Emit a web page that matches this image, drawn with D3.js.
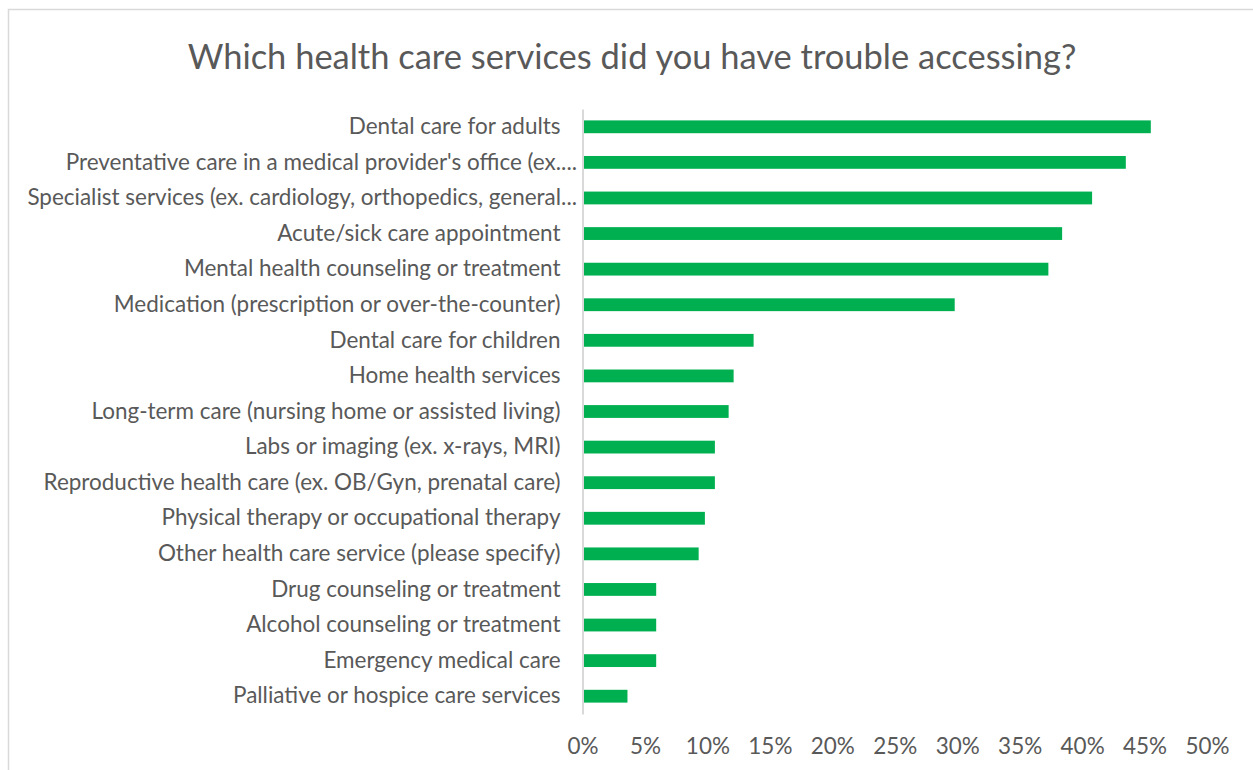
<!DOCTYPE html>
<html>
<head>
<meta charset="utf-8">
<script src="https://cdn.jsdelivr.net/npm/d3@7"></script>
<style>
  html, body { margin: 0; padding: 0; background: #ffffff; }
  svg { display: block; }
  text { font-family: Lato, "Open Sans", sans-serif; fill: #595959; }
</style>
</head>
<body>
<svg id="chart" width="1253" height="770"></svg>
<script>
// Survey responses: share of respondents reporting trouble accessing each service
const categories = [
  "Dental care for adults",
  "Preventative care in a medical provider's office (ex....",
  "Specialist services (ex. cardiology, orthopedics, general...",
  "Acute/sick care appointment",
  "Mental health counseling or treatment",
  "Medication (prescription or over-the-counter)",
  "Dental care for children",
  "Home health services",
  "Long-term care (nursing home or assisted living)",
  "Labs or imaging (ex. x-rays, MRI)",
  "Reproductive health care (ex. OB/Gyn, prenatal care)",
  "Physical therapy or occupational therapy",
  "Other health care service (please specify)",
  "Drug counseling or treatment",
  "Alcohol counseling or treatment",
  "Emergency medical care",
  "Palliative or hospice care services"
];
const values = [0.455, 0.435, 0.408, 0.384, 0.373, 0.298, 0.137, 0.121, 0.117, 0.106, 0.106, 0.098, 0.093, 0.059, 0.059, 0.059, 0.036];
const tickValues = [0, 0.05, 0.10, 0.15, 0.20, 0.25, 0.30, 0.35, 0.40, 0.45, 0.50];
const title = "Which health care services did you have trouble accessing?";

const svg = d3.select("#chart");
const W = 1253, H = 770;

// chart frame
svg.append("rect")
  .attr("x", 8.5).attr("y", 9.5)
  .attr("width", W + 10).attr("height", H + 10)
  .attr("fill", "#ffffff")
  .attr("stroke", "#d9d9d9")
  .attr("stroke-width", 1.5);

const plot = { left: 582.5, right: 1207, top: 109, bottom: 714 };

const x = d3.scaleLinear().domain([0, 0.5]).range([plot.left, plot.right]);
const y = d3.scaleBand().domain(categories).range([plot.top, plot.bottom]).paddingInner(0.64).paddingOuter(0.32);

// title, sized to its layout width
const titleText = svg.append("text")
  .attr("x", 632).attr("y", 55)
  .attr("text-anchor", "middle")
  .attr("dominant-baseline", "central")
  .style("font-size", "28px")
  .text(title);
const tw = titleText.node().getComputedTextLength();
titleText.style("font-size", (28 * 889 / tw).toFixed(2) + "px");

// bars
svg.append("g")
  .selectAll("rect")
  .data(categories)
  .join("rect")
  .attr("x", x(0))
  .attr("y", d => y(d))
  .attr("width", (d, i) => x(values[i]) - x(0))
  .attr("height", y.bandwidth())
  .attr("fill", "#00b050");

// category axis
const yAxis = svg.append("g")
  .attr("transform", `translate(${plot.left},0)`)
  .call(d3.axisLeft(y).tickSize(0).tickPadding(22));
yAxis.select(".domain")
  .attr("stroke", "#d9d9d9")
  .attr("stroke-width", 2);
const yLabels = yAxis.selectAll(".tick text")
  .attr("fill", "#595959")
  .style("font-family", "Lato, 'Open Sans', sans-serif")
  .style("font-size", "19px");

// scale label font so the row labels fit the same column width
const probe = yLabels.filter(d => d === "Long-term care (nursing home or assisted living)");
const lw = probe.node().getComputedTextLength();
const labelSize = 19 * 469 / lw;
yLabels.style("font-size", labelSize.toFixed(2) + "px");
// truncated labels let their trailing dots run past the column edge
yLabels.filter(d => d.endsWith("..."))
  .attr("x", -5.5);

// value axis labels
const xAxis = svg.append("g")
  .attr("transform", `translate(0,${plot.bottom})`)
  .call(d3.axisBottom(x).tickValues(tickValues).tickFormat(d3.format(".0%")).tickSize(0).tickPadding(24));
xAxis.select(".domain").remove();
xAxis.selectAll(".tick text")
  .attr("fill", "#595959")
  .style("font-family", "Lato, 'Open Sans', sans-serif")
  .style("font-size", labelSize.toFixed(2) + "px");
</script>
</body>
</html>
